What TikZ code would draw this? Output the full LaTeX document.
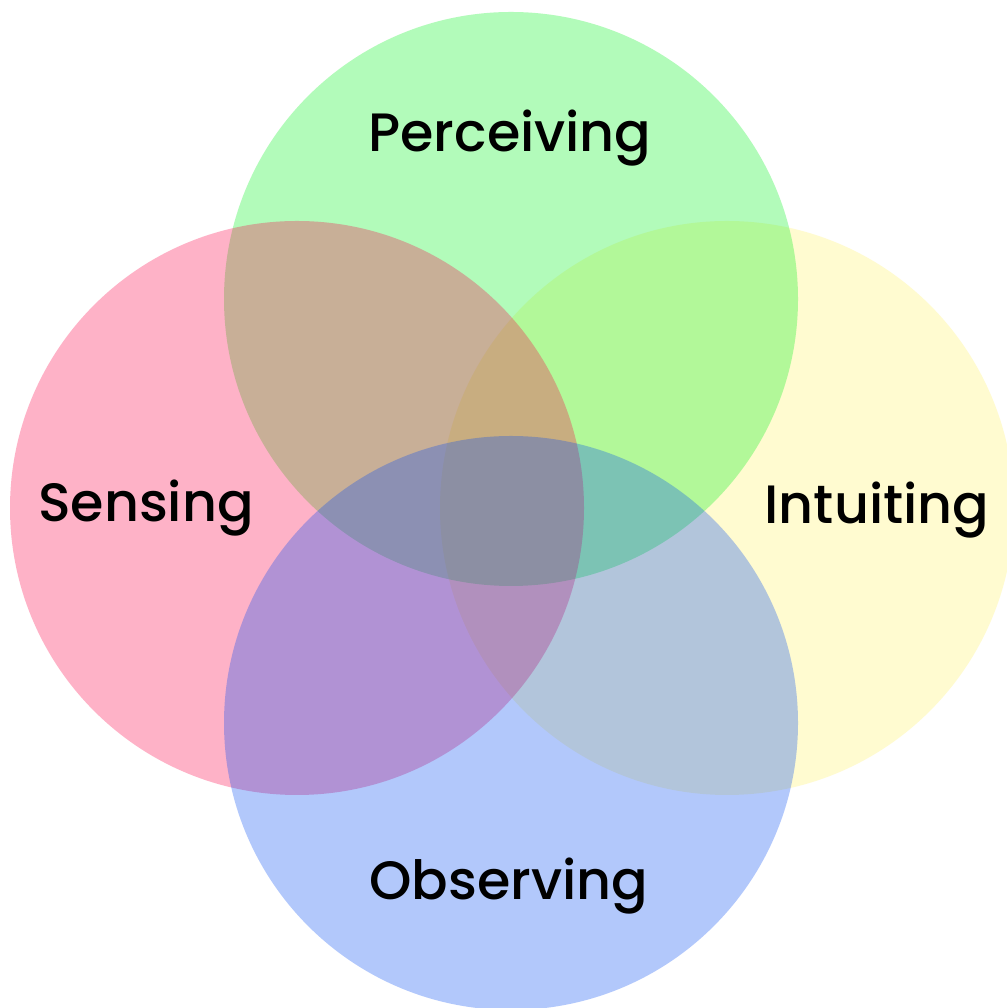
\documentclass[tikz,border=0pt]{standalone}
\usepackage{fontspec}
\setmainfont{Poppins}[UprightFont=*-Medium]
\definecolor{cgreen}{RGB}{2,242,28}
\definecolor{cpink}{RGB}{252,0,72}
\definecolor{cyellow}{RGB}{255,242,102}
\definecolor{cblue}{RGB}{2,75,245}
\begin{document}
\begin{tikzpicture}[x=1pt,y=1pt,
  disc/.style={circle,minimum size=574pt,inner sep=0pt,draw=none,fill opacity=0.3},
  lab/.style={anchor=base,font=\fontsize{54}{64}\selectfont,text=black}]
\useasboundingbox (0,0) rectangle (1006,1008);
\fill[white] (0,0) rectangle (1006,1008);
\node[disc,fill=cyellow] (intu) at (727,500) {};
\node[disc,fill=cgreen] (perc) at (511,709) {};
\node[disc,fill=cpink] (sens) at (297,500) {};
\node[disc,fill=cblue] (obs) at (511,285) {};
\node[lab] (tperc) at (510,856) {Perceiving};
\node[lab] (tsens) at (146,486) {Sensing};
\node[lab] (tintu) at (877,484) {Intuiting};
\node[lab] (tobs) at (509,108) {Observing};
\end{tikzpicture}
\end{document}
